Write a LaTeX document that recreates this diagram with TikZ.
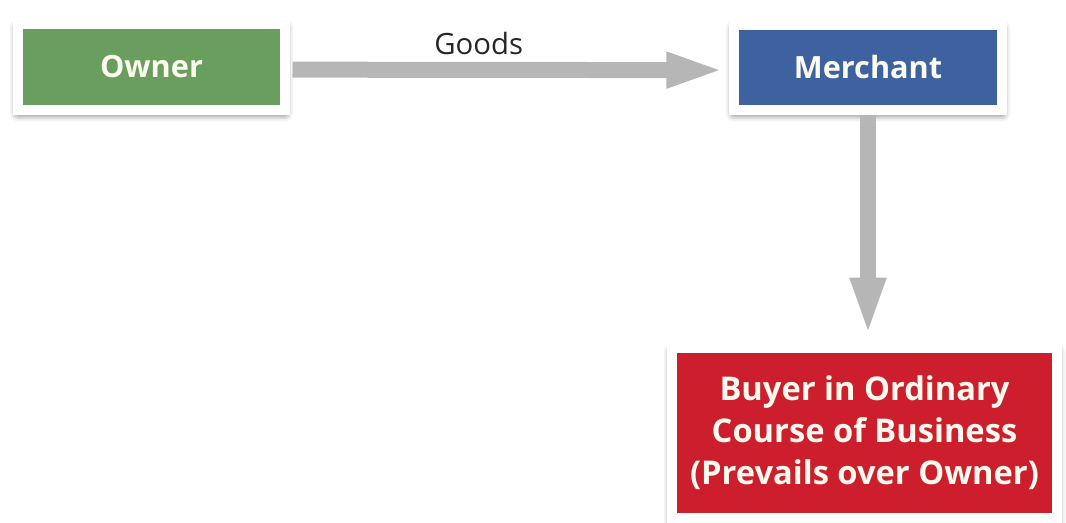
\documentclass[tikz,border=0pt]{standalone}
\usepackage{fontspec}
\setmainfont{Open Sans}
\usetikzlibrary{arrows.meta,shadows.blur}
\definecolor{ownergreen}{RGB}{106,158,94}
\definecolor{merchblue}{RGB}{62,98,160}
\definecolor{buyerred}{RGB}{204,30,44}
\definecolor{boxtext}{RGB}{250,250,238}
\definecolor{arrowgray}{RGB}{182,182,182}
\tikzset{
  box/.style={draw=white, line width=7.5pt, inner sep=0pt, align=center,
    text=boxtext, font=\bfseries,
    blur shadow={shadow xshift=0pt, shadow yshift=-2.5pt, shadow blur radius=6pt, shadow opacity=80}},
  flow/.style={draw=arrowgray, line width=12pt, -{Triangle[width=24pt,length=44pt]}}
}
\begin{document}
\begin{tikzpicture}[x=0.75pt,y=-0.75pt]
\useasboundingbox (0,0) rectangle (1066,523);
\node[box, fill=ownergreen, minimum width=200pt, minimum height=64.5pt, font=\bfseries\fontsize{23}{28}\selectfont] (owner) at (151.5,67) {Owner};
\node[box, fill=merchblue, minimum width=201pt, minimum height=63.75pt, font=\bfseries\fontsize{23}{28}\selectfont] (merchant) at (868,67.5) {Merchant};
\node[box, fill=buyerred, minimum width=288.75pt, minimum height=127.5pt, font=\bfseries\fontsize{24.5}{31.5}\selectfont] (buyer) at (864.5,433) {Buyer in Ordinary\\Course of Business\\(Prevails over Owner)};
\draw[flow, shorten >=3pt, shorten <=2pt] ([yshift=-2pt]owner.east) -- ([yshift=-2pt]merchant.west)
  node[pos=0.43, above=2pt, text=black!85, font=\fontsize{22}{26}\selectfont] (goods) {Goods};
\draw[flow, shorten >=5pt] (merchant.south) -- (merchant.south |- buyer.north);
\end{tikzpicture}
\end{document}
